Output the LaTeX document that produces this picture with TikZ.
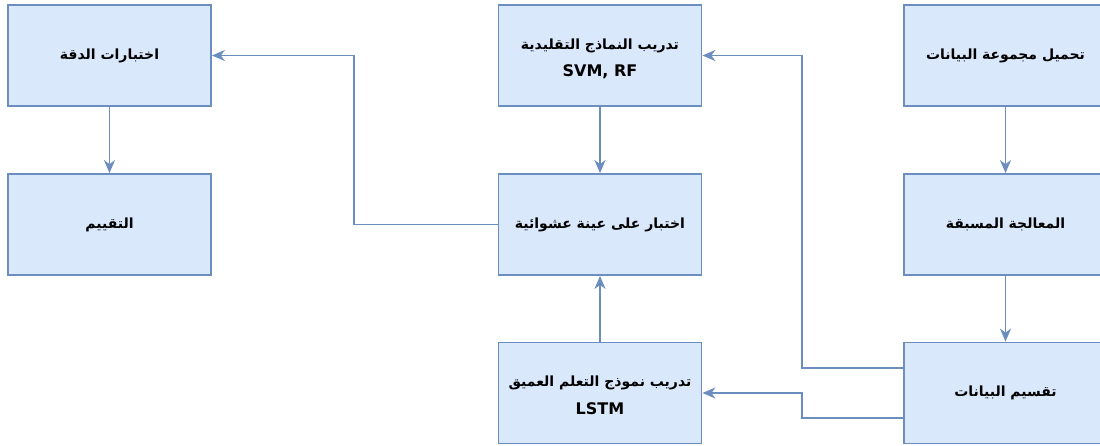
\documentclass[tikz,border=0pt]{standalone}
\usepackage{fontspec}
\setmainfont{DejaVu Sans}
\newfontfamily\arabicfont[Script=Arabic]{DejaVu Sans}
\TeXXeTstate=1
\usetikzlibrary{arrows.meta,calc}
\definecolor{boxfill}{HTML}{DAE8FC}
\definecolor{boxline}{HTML}{6C8EBF}
\newcommand{\ar}[1]{{\arabicfont\bfseries\fontsize{14}{18}\selectfont\beginR #1\endR}}
\newcommand{\twoline}[2]{\raisebox{-6.5pt}[0pt][0pt]{\begin{tabular}{@{}c@{}}\ar{#1}\\[12pt]{\fontsize{16}{18}\selectfont\bfseries #2}\end{tabular}}}
\begin{document}
\begin{tikzpicture}[x=1pt,y=-1pt,
  stepbox/.style={draw=boxline,fill=boxfill,line width=1.8pt,minimum width=203pt,minimum height=101pt,inner sep=0pt,align=center},
  conn/.style={draw=boxline,line width=1.8pt,-{Stealth[length=13pt,width=11pt,inset=4pt]}}]
\useasboundingbox (0,0) rectangle (1100,445);
\node[stepbox] (load) at (1005.5,55.5) {\ar{تحميل مجموعة البيانات}};
\node[stepbox] (prep) at (1005.5,224.5) {\ar{المعالجة المسبقة}};
\node[stepbox] (split) at (1005.5,393) {\ar{تقسيم البيانات}};
\node[stepbox] (trad) at (600,55.5) {\twoline{تدريب النماذج التقليدية}{SVM, RF}};
\node[stepbox] (rand) at (600,224.5) {\ar{اختبار على عينة عشوائية}};
\node[stepbox] (lstm) at (600,393) {\twoline{تدريب نموذج التعلم العميق}{LSTM}};
\node[stepbox] (acc) at (109.5,55.5) {\ar{اختبارات الدقة}};
\node[stepbox] (eval) at (109.5,224.5) {\ar{التقييم}};
\draw[conn] (load) -- (prep);
\draw[conn] (prep) -- (split);
\draw[conn] (trad) -- (rand);
\draw[conn] (lstm) -- (rand);
\draw[conn] (acc) -- (eval);
\draw[conn] ($(split.west)+(0,-25)$) -- ++(-101,0) |- (trad.east);
\draw[conn] ($(split.west)+(0,25)$) -- ++(-101,0) |- (lstm.east);
\draw[conn] (rand.west) -- ++(-143.5,0) |- (acc.east);
\end{tikzpicture}
\end{document}
